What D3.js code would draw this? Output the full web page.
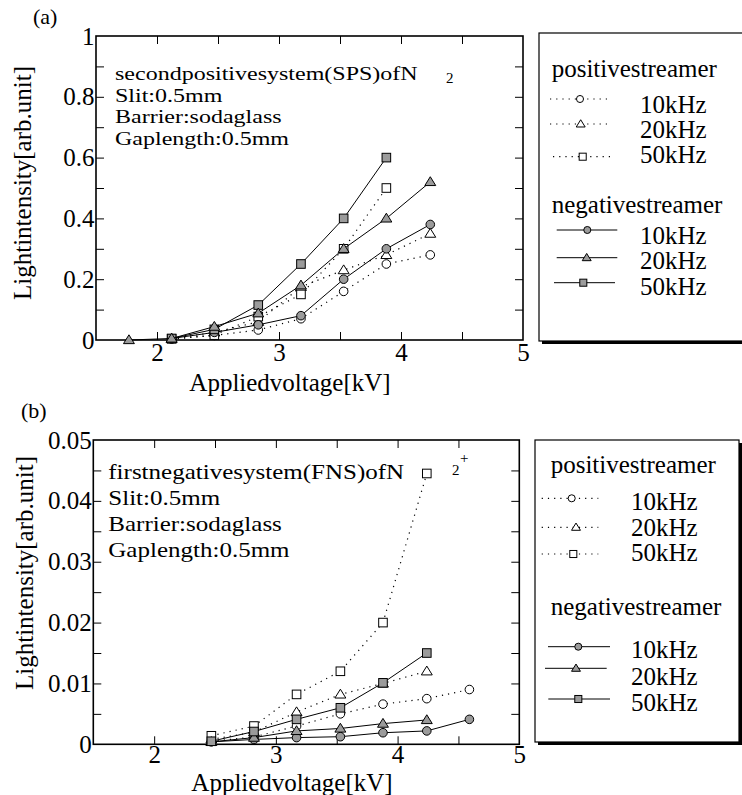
<!DOCTYPE html>
<html><head><meta charset="utf-8">
<script src="https://cdn.jsdelivr.net/npm/d3@7"></script>
<style>body{margin:0;background:#fff;}</style>
</head><body>
<svg id="c" width="742" height="795" font-family="Liberation Serif"></svg>
<script>
// ---------- data ----------
const xTicksMajor = [2, 3, 4, 5];
const xTicksAll = [2, 2.5, 3, 3.5, 4, 4.5];
const yTicksA_labels = [0, 0.2, 0.4, 0.6, 0.8, 1];
const yTicksA_all = [0.1, 0.2, 0.3, 0.4, 0.5, 0.6, 0.7, 0.8, 0.9];
const yTicksB_labels = [0, 0.01, 0.02, 0.03, 0.04, 0.05];
const yTicksB_all = [0.005, 0.01, 0.015, 0.02, 0.025, 0.03, 0.035, 0.04, 0.045];

// panel (a): second positive system
const aPos10 = [[2.12,0.003],[2.47,0.015],[2.83,0.033],[3.18,0.07],[3.53,0.16],[3.88,0.25],[4.24,0.28]];
const aPos20 = [[2.12,0.004],[2.47,0.025],[2.83,0.06],[3.18,0.175],[3.53,0.23],[3.88,0.28],[4.24,0.35]];
const aPos50 = [[2.12,0.004],[2.47,0.016],[2.83,0.077],[3.18,0.15],[3.53,0.30],[3.88,0.50]];
const aNeg10 = [[2.12,0.005],[2.47,0.025],[2.83,0.05],[3.18,0.08],[3.53,0.20],[3.88,0.30],[4.24,0.38]];
const aNeg20 = [[1.77,0.0],[2.12,0.005],[2.47,0.044],[2.83,0.088],[3.18,0.18],[3.53,0.30],[3.88,0.40],[4.24,0.52]];
const aNeg50 = [[2.12,0.005],[2.47,0.035],[2.83,0.115],[3.18,0.25],[3.53,0.40],[3.88,0.60]];

// panel (b): first negative system
const bPos10 = [[2.47,0.0005],[2.82,0.0012],[3.17,0.003],[3.53,0.005],[3.88,0.0066],[4.24,0.0075],[4.59,0.009]];
const bPos20 = [[2.47,0.0008],[2.82,0.002],[3.17,0.0053],[3.53,0.0082],[3.88,0.010],[4.24,0.012]];
const bPos50 = [[2.47,0.0014],[2.82,0.003],[3.17,0.0082],[3.53,0.012],[3.88,0.020],[4.24,0.0445]];
const bNeg10 = [[2.47,0.0004],[2.82,0.0008],[3.17,0.0011],[3.53,0.00125],[3.88,0.0019],[4.24,0.0022],[4.59,0.0041]];
const bNeg20 = [[2.47,0.0004],[2.82,0.0011],[3.17,0.0022],[3.53,0.0026],[3.88,0.0034],[4.24,0.004]];
const bNeg50 = [[2.47,0.0005],[2.82,0.0021],[3.17,0.0041],[3.53,0.006],[3.88,0.0101],[4.24,0.015]];

const freqLabels = ["10kHz", "20kHz", "50kHz"];
const shapes = ["circle", "triangle", "square"];
const annA = ["secondpositivesystem(SPS)ofN", "Slit:0.5mm", "Barrier:sodaglass", "Gaplength:0.5mm"];
const annB = ["firstnegativesystem(FNS)ofN", "Slit:0.5mm", "Barrier:sodaglass", "Gaplength:0.5mm"];

// ---------- drawing ----------
const FONT = "Liberation Serif";
const svg = d3.select("#c");
const GRAY = "#9b9b9b";

function txt(g, x, y, size, s) {
  return g.append("text").attr("x", x).attr("y", y).attr("font-family", FONT)
    .attr("font-size", size).attr("fill", "#000").text(s);
}

function marker(g, shape, cx, cy, filled, s) {
  const fill = filled ? GRAY : "#fff";
  if (shape === "circle") {
    g.append("circle").attr("cx", cx).attr("cy", cy).attr("r", 4.3*s)
      .attr("fill", fill).attr("stroke", "#000").attr("stroke-width", 1);
  } else if (shape === "square") {
    const h = 4.3*s;
    g.append("rect").attr("x", cx-h).attr("y", cy-h).attr("width", 2*h).attr("height", 2*h)
      .attr("fill", fill).attr("stroke", "#000").attr("stroke-width", 1);
  } else {
    const h = 5.2*s;
    g.append("path").attr("d", `M${cx},${cy-h} L${cx+h*1.05},${cy+h*0.7} L${cx-h*1.05},${cy+h*0.7} Z`)
      .attr("fill", fill).attr("stroke", "#000").attr("stroke-width", 1);
  }
}

function panel(cfg) {
  const x = d3.scaleLinear().domain([1.5, 5]).range([cfg.left, cfg.right]);
  const y = d3.scaleLinear().domain([0, cfg.ymax]).range([cfg.bottom, cfg.top]);
  const g = svg.append("g");

  // ticks (inside)
  const mkAxis = (ax, vals, fmt, pad) => ax.tickValues(vals).tickSizeInner(-8).tickSizeOuter(0).tickPadding(pad).tickFormat(fmt);
  const bottomAx = g.append("g").attr("transform", `translate(0,${cfg.bottom})`)
    .call(mkAxis(d3.axisBottom(x), xTicksAll.concat([5]), d => xTicksMajor.includes(d) ? String(d) : "", cfg.xPad));
  const topAx = g.append("g").attr("transform", `translate(0,${cfg.top})`)
    .call(mkAxis(d3.axisTop(x), xTicksAll, () => "", 3));
  const leftAx = g.append("g").attr("transform", `translate(${cfg.left},0)`)
    .call(mkAxis(d3.axisLeft(y), cfg.yAll.concat([0, cfg.ymax]), d => {
      const m = cfg.yLabels.find(v => Math.abs(v - d) < 1e-9);
      return m === undefined ? "" : String(m);
    }, 3));
  const rightAx = g.append("g").attr("transform", `translate(${cfg.right},0)`)
    .call(mkAxis(d3.axisRight(y), cfg.yAll, () => "", 3));
  [bottomAx, topAx, leftAx, rightAx].forEach(a => {
    a.attr("font-family", FONT).attr("font-size", 25);
    a.select(".domain").remove();
    a.selectAll("line").attr("stroke", "#000").attr("stroke-width", 1);
    a.selectAll("text").attr("font-family", FONT).attr("font-size", 25).attr("fill", "#000");
  });
  bottomAx.selectAll(".tick").filter(d => d === 5).select("line").remove();
  leftAx.selectAll(".tick").filter(d => d === 0 || d === cfg.ymax).select("line").remove();
  leftAx.selectAll("text").attr("x", -1.5);

  // frame
  g.append("rect").attr("x", cfg.left).attr("y", cfg.top)
    .attr("width", cfg.right - cfg.left).attr("height", cfg.bottom - cfg.top)
    .attr("fill", "none").attr("stroke", "#000").attr("stroke-width", 1.6);

  // series
  const line = d3.line().x(d => x(d[0])).y(d => y(d[1]));
  cfg.series.forEach(s => {
    g.append("path").attr("d", line(s.data)).attr("fill", "none")
      .attr("stroke", "#000").attr("stroke-width", s.filled ? 1 : 1.2)
      .attr("stroke-dasharray", s.filled ? null : "1.2,5");
    s.data.forEach(d => marker(g, s.shape, x(d[0]), y(d[1]), s.filled, 1));
  });

  // axis titles
  txt(g, cfg.xTitleX, cfg.xTitleY, 25, "Appliedvoltage[kV]").attr("text-anchor", "middle");
  g.append("text").attr("transform", `translate(${cfg.yTitleX},${cfg.yTitleY}) rotate(-90)`)
    .attr("font-family", FONT).attr("font-size", 25).attr("fill", "#000")
    .attr("text-anchor", "start").text("Lightintensity[arb.unit]");

  // panel tag
  txt(g, cfg.tagX, cfg.tagY, 22, cfg.tag);

  // annotation: glyphs a little shorter than wide, as in the reference
  cfg.ann.forEach((t, i) => {
    const el = txt(g, cfg.annX, cfg.annY + i*cfg.annDy, cfg.annWide, t);
    const w = el.node().getComputedTextLength();
    el.attr("font-size", cfg.annSize).attr("textLength", w).attr("lengthAdjust", "spacingAndGlyphs");
  });
  txt(g, cfg.subX, cfg.subY, 15, "2");
  if (cfg.sup) txt(g, cfg.subX + 8, cfg.subY - 12, 15, "+");

  // legend
  const L = cfg.legend;
  g.append("rect").attr("x", L.x + 3).attr("y", L.y + 3).attr("width", L.w).attr("height", L.h).attr("fill", "#000");
  g.append("rect").attr("x", L.x).attr("y", L.y).attr("width", L.w).attr("height", L.h)
    .attr("fill", "#fff").attr("stroke", "#000").attr("stroke-width", 1.2);
  txt(g, L.hx, L.posHeadY, 25, "positivestreamer");
  txt(g, L.hx, L.negHeadY, 25, "negativestreamer");
  freqLabels.forEach((f, i) => {
    const p = L.pos[i];
    g.append("line").attr("x1", p[0]).attr("x2", p[1]).attr("y1", p[3]).attr("y2", p[3])
      .attr("stroke", "#000").attr("stroke-width", 1.2).attr("stroke-dasharray", "1.2,5");
    marker(g, shapes[i], p[2], p[3], false, 0.82);
    txt(g, L.tx, L.posTextY[i], 25, f);
    const n = L.neg[i];
    g.append("line").attr("x1", n[0]).attr("x2", n[1]).attr("y1", n[3]).attr("y2", n[3])
      .attr("stroke", "#000").attr("stroke-width", 1);
    marker(g, shapes[i], n[2], n[3], true, 0.82);
    txt(g, L.tx, L.negTextY[i], 25, f);
  });
}

panel({
  left: 96, right: 523, top: 36, bottom: 340, ymax: 1, xPad: 3,
  yAll: yTicksA_all, yLabels: yTicksA_labels,
  series: [
    {data: aPos10, shape: "circle", filled: false},
    {data: aPos20, shape: "triangle", filled: false},
    {data: aPos50, shape: "square", filled: false},
    {data: aNeg10, shape: "circle", filled: true},
    {data: aNeg50, shape: "square", filled: true},
    {data: aNeg20, shape: "triangle", filled: true}
  ],
  xTitleX: 290, xTitleY: 391, yTitleX: 31, yTitleY: 300,
  tag: "(a)", tagX: 33, tagY: 24,
  ann: annA, annX: 115, annY: 80, annDy: 21.6, annSize: 19.5, annWide: 24, subX: 446, subY: 83, sup: false,
  legend: {
    x: 539, y: 33, w: 260, h: 308, hx: 551.7, tx: 640,
    posHeadY: 77, negHeadY: 213,
    posTextY: [113.3, 138.3, 163.3], negTextY: [244.3, 269.3, 295],
    pos: [[550, 608, 580, 99], [550, 608, 580.7, 124], [553, 610, 582.7, 156.7]],
    neg: [[556.7, 617.3, 587.3, 230], [556.7, 617.3, 586.7, 257.7], [554, 615, 583.3, 282.7]]
  }
});

panel({
  left: 93.3, right: 519.3, top: 440, bottom: 744.3, ymax: 0.05, xPad: 1,
  yAll: yTicksB_all, yLabels: yTicksB_labels,
  series: [
    {data: bPos10, shape: "circle", filled: false},
    {data: bPos20, shape: "triangle", filled: false},
    {data: bPos50, shape: "square", filled: false},
    {data: bNeg10, shape: "circle", filled: true},
    {data: bNeg20, shape: "triangle", filled: true},
    {data: bNeg50, shape: "square", filled: true}
  ],
  xTitleX: 292, xTitleY: 791, yTitleX: 33, yTitleY: 690,
  tag: "(b)", tagX: 21, tagY: 418,
  ann: annB, annX: 108.3, annY: 479.3, annDy: 25.8, annSize: 21, annWide: 25, subX: 452, subY: 475, sup: true,
  legend: {
    x: 535, y: 440, w: 204, h: 302, hx: 550.7, tx: 631,
    posHeadY: 473.3, negHeadY: 615,
    posTextY: [510, 536, 561], negTextY: [658.3, 685, 710.7],
    pos: [[541.7, 598.3, 571.7, 498.3], [541.7, 598.3, 576, 527.3], [541.7, 598.3, 573.3, 554]],
    neg: [[548, 610, 578.3, 646.7], [545, 606.7, 576, 668.3], [548.3, 610, 578.3, 699]]
  }
});
</script>
</body></html>
